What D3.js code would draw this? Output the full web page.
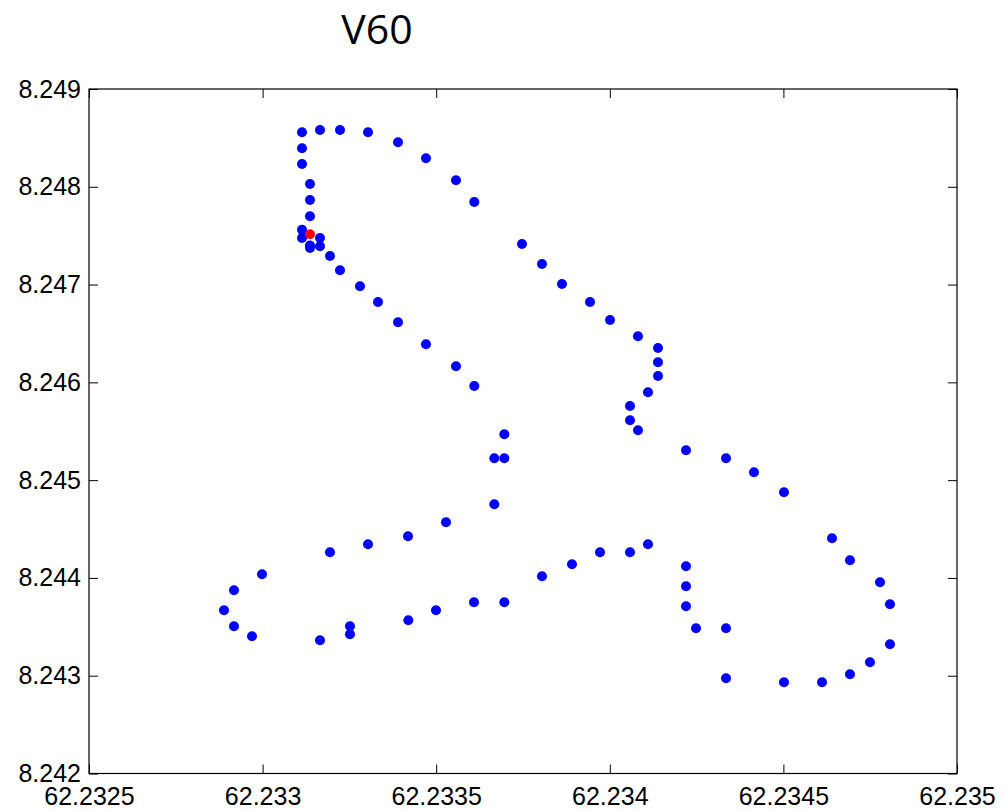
<!DOCTYPE html>
<html><head><meta charset="utf-8">
<script src="https://cdn.jsdelivr.net/npm/d3@7"></script>
<style>html,body{margin:0;padding:0;background:#fff;}svg{display:block;}</style>
</head><body>
<script>
const title = "V60";
const xTicks = [62.2325, 62.233, 62.2335, 62.234, 62.2345, 62.235];
const xTickLabels = ["62.2325", "62.233", "62.2335", "62.234", "62.2345", "62.235"];
const yTicks = [8.242, 8.243, 8.244, 8.245, 8.246, 8.247, 8.248, 8.249];
const yTickLabels = ["8.242", "8.243", "8.244", "8.245", "8.246", "8.247", "8.248", "8.249"];

const lon = [62.2331135,62.2331653,62.2332229,62.2333036,62.2333900,62.2334706,62.2335570,62.2336097,
62.2337471,62.2338047,62.2338623,62.2339430,62.2340006,62.2340812,62.2341388,62.2341388,62.2341388,
62.2341100,62.2340582,62.2340582,62.2340812,62.2342195,62.2343347,62.2344153,62.2345017,62.2346400,
62.2346918,62.2347782,62.2348070,62.2348070,62.2347494,62.2346918,62.2346112,62.2345017,62.2343347,
62.2343347,62.2342483,62.2342195,62.2342195,62.2342195,62.2341100,62.2340582,62.2339718,62.2338911,
62.2338047,62.2336962,62.2336089,62.2334994,62.2334197,62.2332517,62.2332517,62.2331653,62.2329695,
62.2329176,62.2328888,62.2329176,62.2329983,62.2331941,62.2333036,62.2334188,62.2335282,62.2336674,
62.2336674,62.2336962,62.2336962,62.2336097,62.2335570,62.2334706,62.2333900,62.2333324,62.2332805,
62.2332229,62.2331941,62.2331653,62.2331365,62.2331365,62.2331653,62.2331135,62.2331135,62.2331365,
62.2331365,62.2331365,62.2331135,62.2331135];
const lat = [8.2485572,8.2485807,8.2485807,8.2485572,8.2484549,8.2482913,8.2480663,8.2478444,
8.2474149,8.2472104,8.2470058,8.2468218,8.2466377,8.2464710,8.2463514,8.2462051,8.2460650,
8.2458983,8.2457582,8.2456120,8.2455097,8.2453052,8.2452234,8.2450802,8.2448757,8.2444053,
8.2441803,8.2439553,8.2437303,8.2433213,8.2431372,8.2430145,8.2429327,8.2429327,8.2429736,
8.2434849,8.2434849,8.2437099,8.2439144,8.2441189,8.2443439,8.2442621,8.2442621,8.2441394,
8.2440167,8.2437508,8.2437508,8.2436690,8.2435667,8.2435054,8.2434236,8.2433622,8.2434031,
8.2435054,8.2436690,8.2438735,8.2440371,8.2442621,8.2443439,8.2444257,8.2445689,8.2447530,
8.2452234,8.2452234,8.2454688,8.2459628,8.2461642,8.2463892,8.2466142,8.2468218,8.2469823,
8.2471460,8.2472922,8.2473914,8.2473996,8.2473740,8.2474763,8.2474763,8.2475612,8.2476982,
8.2478649,8.2480285,8.2482330,8.2483936];
const currentLon = [62.2331365];
const currentLat = [8.2475141];

const W = 1004, H = 811;
const L = 89, R = 957, T = 89, B = 773.5;

const svg = d3.select("body").append("svg").attr("width", W).attr("height", H);
const x = d3.scaleLinear().domain([62.2325, 62.235]).range([L, R]);
const y = d3.scaleLinear().domain([8.242, 8.249]).range([B, T]);

const font = "'Liberation Sans', Arial, sans-serif";
const tick = 9;

const gB = svg.append("g").attr("transform", `translate(0,${B})`)
  .call(d3.axisBottom(x).tickValues(xTicks).tickFormat((d, i) => xTickLabels[i])
    .tickSizeInner(-tick).tickSizeOuter(0).tickPadding(14));
const gT = svg.append("g").attr("transform", `translate(0,${T})`)
  .call(d3.axisTop(x).tickValues(xTicks).tickFormat("").tickSizeInner(-tick).tickSizeOuter(0));
const gL = svg.append("g").attr("transform", `translate(${L},0)`)
  .call(d3.axisLeft(y).tickValues(yTicks).tickFormat((d, i) => yTickLabels[i])
    .tickSizeInner(-tick).tickSizeOuter(0).tickPadding(8));
const gR = svg.append("g").attr("transform", `translate(${R},0)`)
  .call(d3.axisRight(y).tickValues(yTicks).tickFormat("").tickSizeInner(-tick).tickSizeOuter(0));

[gB, gT, gL, gR].forEach(g => {
  g.select(".domain").remove();
  g.selectAll("line").attr("stroke", "#000").attr("stroke-width", 1);
  g.selectAll("text").attr("fill", "#000").style("font-family", font).style("font-size", "25px");
});

svg.append("rect").attr("x", L).attr("y", T).attr("width", R - L).attr("height", B - T)
  .attr("fill", "none").attr("stroke", "#000").attr("stroke-width", 1.2);

const pts = lon.map((d, i) => ({lon: d, lat: lat[i]}));
svg.append("g").selectAll("circle").data(pts).join("circle")
  .attr("cx", d => x(d.lon)).attr("cy", d => y(d.lat)).attr("r", 5).attr("fill", "#0000ff");
svg.append("g").selectAll("circle").data(currentLon.map((d, i) => ({lon: d, lat: currentLat[i]}))).join("circle")
  .attr("cx", d => x(d.lon)).attr("cy", d => y(d.lat)).attr("r", 5).attr("fill", "#ff0000");

svg.append("text").attr("x", 377).attr("y", 44).attr("text-anchor", "middle")
  .style("font-family", "'Open Sans', sans-serif").style("font-size", "41px").attr("fill", "#000")
  .text(title);
</script>
</body></html>
